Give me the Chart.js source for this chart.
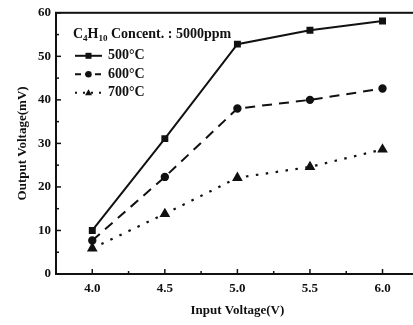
<!DOCTYPE html>
<html>
<head>
<meta charset="utf-8">
<script src="https://cdn.jsdelivr.net/npm/chart.js@4"></script>
<style>
  html, body { margin: 0; padding: 0; background: #fff; overflow: hidden; }
  #wrap { width: 425px; height: 325px; }
</style>
</head>
<body>
<div id="wrap"><canvas id="voltChart" width="425" height="325"></canvas></div>
<script>
const inputVoltage = [4.0, 4.5, 5.0, 5.5, 6.0];
const out500 = [10.0, 31.1, 52.8, 56.0, 58.1];
const out600 = [7.7, 22.3, 38.0, 40.0, 42.6];
const out700 = [5.9, 13.8, 22.1, 24.6, 28.6];
const seriesNames = ['500°C', '600°C', '700°C'];
const legendTitle = ['C', '4', 'H', '10', ' Concent. : 5000ppm'];

const ink = '#111';
const serif = '"Liberation Serif", "DejaVu Serif", serif';

const toPts = arr => arr.map((v, i) => ({ x: inputVoltage[i], y: v }));

// frame, inward ticks and legend box
const framePlugin = {
  id: 'frameTicks',
  afterDraw(chart) {
    const { ctx, chartArea: a, scales: { x, y } } = chart;
    ctx.save();
    ctx.strokeStyle = ink;
    ctx.lineWidth = 2;
    ctx.strokeRect(a.left, a.top, a.right - a.left, a.bottom - a.top);

    ctx.lineWidth = 1.5;
    for (let v = 0; v <= 60; v += 5) {
      const py = y.getPixelForValue(v);
      const len = v % 10 === 0 ? 5 : 3;
      ctx.beginPath();
      ctx.moveTo(a.left, py); ctx.lineTo(a.left + len, py);
      ctx.stroke();
    }
    for (let v = 3.75; v <= 6.26; v += 0.25) {
      const px = x.getPixelForValue(v);
      const major = Math.abs(v * 2 - Math.round(v * 2)) < 1e-6;
      const len = major ? 5 : 3;
      ctx.beginPath();
      ctx.moveTo(px, a.bottom); ctx.lineTo(px, a.bottom - len);
      ctx.stroke();
    }

    // legend title with subscripts
    ctx.fillStyle = ink;
    ctx.textBaseline = 'alphabetic';
    let tx = a.left + 17;
    const ty = a.top + 25;
    legendTitle.forEach((part, i) => {
      const sub = i === 1 || i === 3;
      ctx.font = `bold ${sub ? 9 : 14}px ${serif}`;
      ctx.fillText(part, tx, sub ? ty + 3 : ty);
      tx += ctx.measureText(part).width;
    });

    // legend entries
    const ds = chart.data.datasets;
    ds.forEach((d, i) => {
      const ly = a.top + 43 + i * 18.5;
      const x0 = a.left + 19, x1 = a.left + 46;
      ctx.strokeStyle = ink;
      ctx.lineWidth = 2;
      ctx.setLineDash(i === 0 ? [] : i === 1 ? [6, 4] : [2, 6]);
      ctx.beginPath();
      ctx.moveTo(x0, ly); ctx.lineTo(x1, ly);
      ctx.stroke();
      ctx.setLineDash([]);
      ctx.fillStyle = ink;
      const cx = (x0 + x1) / 2;
      if (i === 0) ctx.fillRect(cx - 3, ly - 3, 6, 6);
      else if (i === 1) { ctx.beginPath(); ctx.arc(cx, ly, 3.2, 0, Math.PI * 2); ctx.fill(); }
      else { ctx.beginPath(); ctx.moveTo(cx, ly - 3.5); ctx.lineTo(cx + 3.5, ly + 2.5); ctx.lineTo(cx - 3.5, ly + 2.5); ctx.closePath(); ctx.fill(); }
      ctx.font = `bold 14px ${serif}`;
      ctx.textBaseline = 'middle';
      ctx.fillText(seriesNames[i], x1 + 6, ly);
    });
    ctx.restore();
  }
};

new Chart(document.getElementById('voltChart'), {
  type: 'line',
  data: {
    datasets: [
      {
        label: seriesNames[0],
        data: toPts(out500),
        borderColor: ink, backgroundColor: ink,
        borderWidth: 2, pointStyle: 'rect', pointRadius: 3.5,
        tension: 0
      },
      {
        label: seriesNames[1],
        data: toPts(out600),
        borderColor: ink, backgroundColor: ink,
        borderWidth: 2, borderDash: [10, 7], pointStyle: 'circle', pointRadius: 3.2,
        tension: 0
      },
      {
        label: seriesNames[2],
        data: toPts(out700),
        borderColor: ink, backgroundColor: ink,
        borderWidth: 2.2, borderDash: [2.5, 7.5], pointStyle: 'triangle', pointRadius: 4,
        tension: 0
      }
    ]
  },
  options: {
    responsive: false,
    animation: false,
    layout: { padding: { top: 10, right: 6, left: 0, bottom: 0 } },
    scales: {
      x: {
        type: 'linear',
        min: 3.75, max: 6.25,
        afterFit: s => { s.height = 51; },
        afterBuildTicks: s => { s.ticks = inputVoltage.map(v => ({ value: v })); },
        grid: { display: false, drawTicks: false },
        border: { display: false },
        ticks: {
          padding: 7,
          color: ink,
          font: { family: serif, size: 13, weight: 'bold' },
          callback: v => Number(v).toFixed(1)
        },
        title: {
          display: true,
          text: 'Input Voltage(V)',
          color: ink,
          font: { family: serif, size: 13, weight: 'bold' },
          padding: { top: 0, bottom: 7 }
        }
      },
      y: {
        type: 'linear',
        min: 0, max: 60,
        afterFit: s => { s.width = 56; },
        grid: { display: false, drawTicks: false },
        border: { display: false },
        ticks: {
          stepSize: 10,
          padding: 5,
          color: ink,
          font: { family: serif, size: 13, weight: 'bold' }
        },
        title: {
          display: true,
          text: 'Output Voltage(mV)',
          color: ink,
          font: { family: serif, size: 13, weight: 'bold' },
          padding: { top: 15, bottom: 0 }
        }
      }
    },
    plugins: {
      legend: { display: false },
      tooltip: { enabled: false }
    }
  },
  plugins: [framePlugin]
});
</script>
</body>
</html>
